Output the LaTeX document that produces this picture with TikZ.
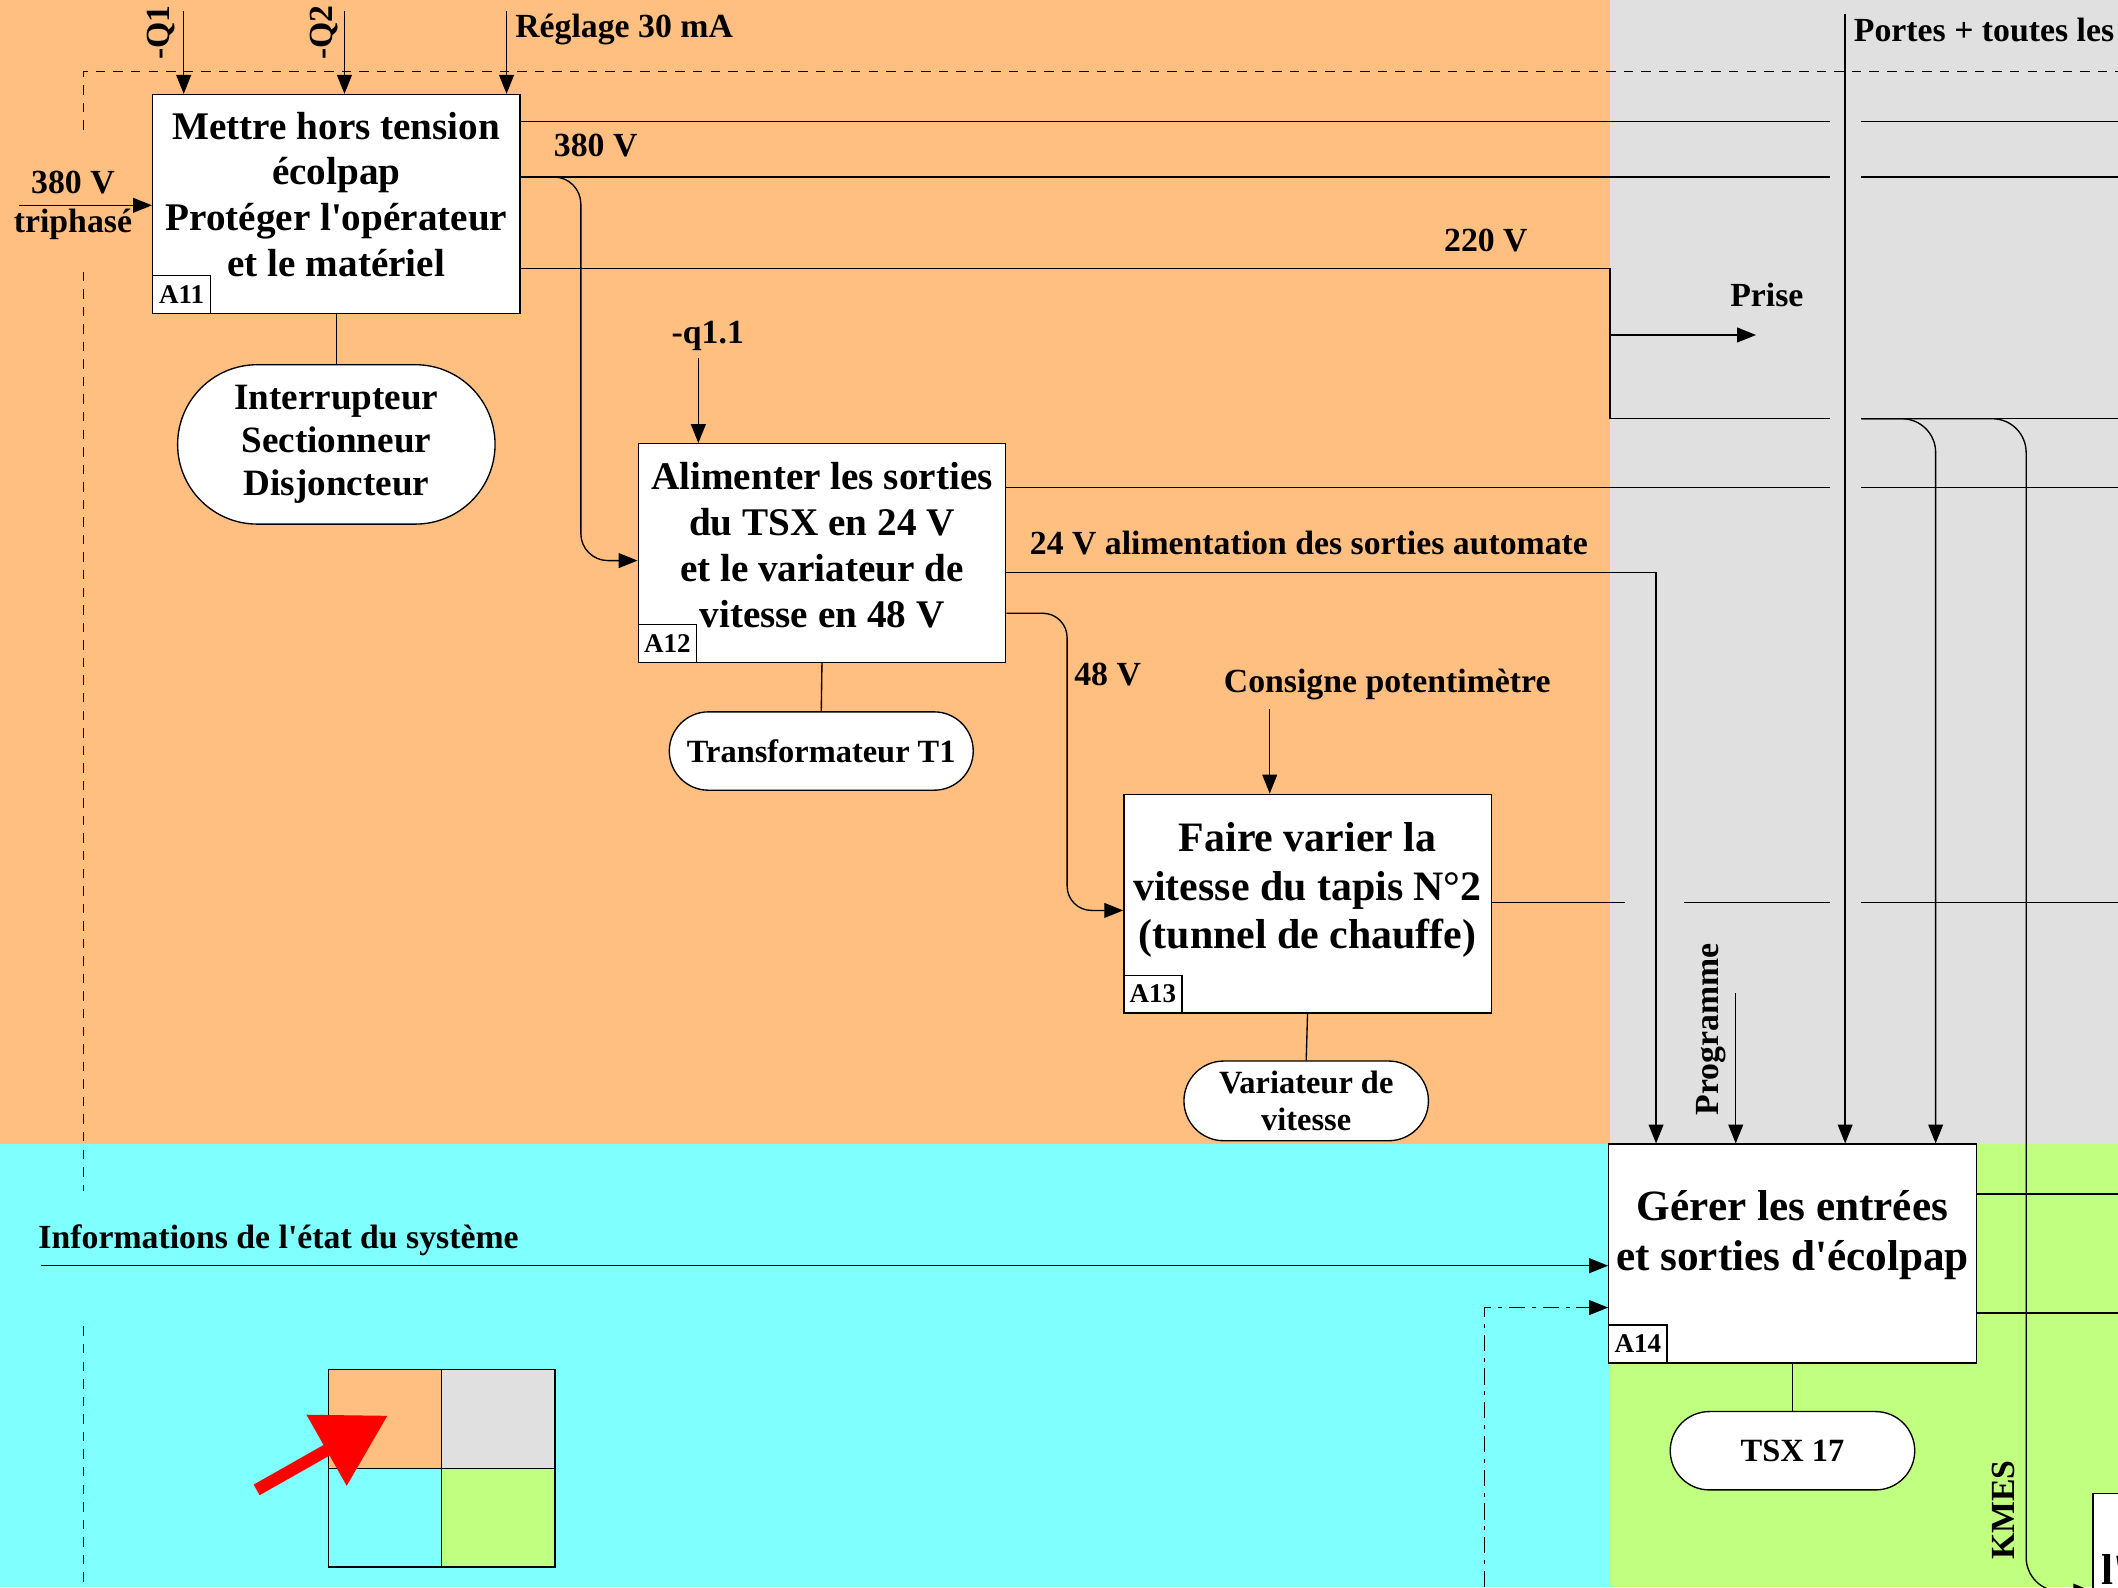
\documentclass[tikz,border=0pt]{standalone}
\usepackage{fontspec}
\setmainfont{Liberation Serif}[Ligatures=TeXOff]
\usetikzlibrary{arrows.meta,shapes.misc,positioning}

\definecolor{fondorange}{RGB}{255,191,128}
\definecolor{fondgris}{RGB}{224,224,224}
\definecolor{fondcyan}{RGB}{128,255,255}
\definecolor{fondvert}{RGB}{192,255,128}

\tikzset{
  fonction/.style={draw, fill=white, minimum width=272pt, minimum height=162pt, inner sep=0pt},
  titre/.style={align=center, font=\fontsize{29}{34}\selectfont\bfseries, inner sep=0pt},
  numero/.style={draw, fill=white, anchor=south west, minimum width=43pt, minimum height=28pt, inner sep=0pt, font=\fontsize{20}{22}\selectfont\bfseries},
  support/.style={draw, fill=white, rounded rectangle, inner sep=0pt, minimum height=58pt, align=center, font=\fontsize{24}{27}\selectfont\bfseries},
  etiq/.style={inner sep=0pt, font=\fontsize{25}{28}\selectfont\bfseries},
  tiret/.style={dash pattern=on 7pt off 6pt}
}

\begin{document}
\begin{tikzpicture}[x=1pt, y=-1pt, line width=1pt, >={Triangle[length=14pt,width=11pt]}]
\useasboundingbox (0,0) rectangle (1568,1175);
\clip (0,0) rectangle (1568,1175);

% Zones
\fill[fondorange] (0,0) rectangle (1192,847);
\fill[fondgris] (1192,0) rectangle (1568,847);
\fill[fondcyan] (0,847) rectangle (1192,1175);
\fill[fondvert] (1192,847) rectangle (1568,1175);

\coordinate (pg) at (1355,0);
\coordinate (pd) at (1378,0);
\coordinate (droite) at (1568,0);

% Cadre en tirets
\draw[tiret] (62,96) -- (62,53) -- (droite |- 0,53);
\draw[tiret] (62,201) -- (62,882);
\draw[tiret] (62,982) -- (62,1175);

% Fonctions
\node[fonction] (a11) at (249,151) {};
\node[titre] (t11) at ([yshift=7pt]a11.center) {Mettre hors tension\\écolpap\\Protéger l'opérateur\\et le matériel};
\node[numero] (n11) at (a11.south west) {A11};

\node[fonction] (a12) at (608.5,409.5) {};
\node[titre] (t12) at ([yshift=6pt]a12.center) {Alimenter les sorties\\du TSX en 24 V\\et le variateur de\\vitesse en 48 V};
\node[numero] (n12) at (a12.south west) {A12};

\node[fonction] (a13) at (968,669) {};
\node[titre, font=\fontsize{31}{36}\selectfont\bfseries] (t13) at ([yshift=10pt]a13.center) {Faire varier la\\vitesse du tapis N°2\\(tunnel de chauffe)};
\node[numero] (n13) at (a13.south west) {A13};

\node[fonction] (a14) at (1327,928) {};
\node[titre, font=\fontsize{32}{37}\selectfont\bfseries] (t14) at ([yshift=14pt]a14.center) {Gérer les entrées\\et sorties d'écolpap};
\node[numero] (n14) at (a14.south west) {A14};

\node[fonction, anchor=north west] (a15) at (1549,1105) {};
\node[anchor=north west, inner sep=0pt, font=\fontsize{32}{37}\selectfont\bfseries] (t15) at (1555,1150) {l'};

% Supports
\node[support, minimum width=235pt, minimum height=118pt, font=\fontsize{27.5}{32}\selectfont\bfseries] (m11) at (249,329) {Interrupteur\\Sectionneur\\Disjoncteur};
\node[support, minimum width=225pt] (m12) at (608,556) {Transformateur T1};
\node[support, minimum width=181pt, minimum height=59pt] (m13) at (967,815) {Variateur de\\vitesse};
\node[support, minimum width=181pt] (m14) at (1327,1074) {TSX 17};
\foreach \f/\m in {a11/m11, a12/m12, a13/m13, a14/m14}
  \draw (\f.south) -- (\m.north);

% Entrees A11
\coordinate (q1) at (136,8);
\coordinate (q2) at (255,8);
\coordinate (reg) at (375,8);
\foreach \c in {q1, q2, reg}
  \draw[->] (\c) -- (\c |- a11.north);
\node[etiq, rotate=90] (lq1) at (119,24) {-Q1};
\node[etiq, rotate=90] (lq2) at (240,24) {-Q2};
\node[etiq, anchor=west] (lreg) at (381,22) {Réglage 30 mA};
\coordinate (tri) at (14,152);
\draw[->] (tri) -- (tri -| a11.west);
\node[etiq] (l380) at (54,135) {380 V};
\node[etiq] (ltri) at (54,166) {triphasé};

% Sorties A11
\foreach \y in {90, 131}
  \draw (a11.east |- 0,\y) -- (pg |- 0,\y) (pd |- 0,\y) -- (droite |- 0,\y);
\node[etiq] (l380b) at (441,108) {380 V};
\draw[->, rounded corners=20pt] (a11.east |- 0,131) -- (430,131) -- (430,415) -- (a12.west |- 0,415);
\draw (a11.east |- 0,199) -- (1192,199) -- (1192,310) -- (pg |- 0,310);
\draw (pd |- 0,310) -- (droite |- 0,310);
\node[etiq] (l220) at (1100,178) {220 V};
\coordinate (prise) at (1300,248);
\draw[->] (1192,248) -- (prise);
\node[etiq] (lprise) at (1308,218) {Prise};
\draw[->, rounded corners=25pt] (pd |- 0,310) -- (1433,310) -- (a14.north -| 1433,0);
\draw[->, rounded corners=25pt] (pd |- 0,310) -- (1500,310) -- (1500,1178) -- (a15.west |- 0,1178);

% Sorties A12
\draw (a12.east |- 0,361) -- (pg |- 0,361) (pd |- 0,361) -- (droite |- 0,361);
\draw[->] (a12.east |- 0,424) -- (1226,424) -- (a14.north -| 1226,0);
\node[etiq] (l24) at (969,402) {24 V alimentation des sorties automate};
\draw[->, rounded corners=18pt] (a12.east |- 0,454) -- (790,454) -- (790,674) -- (a13.west |- 0,674);
\node[etiq] (l48) at (820,499) {48 V};
\coordinate (q11) at (517,265);
\draw[->] (q11) -- (q11 |- a12.north);
\node[etiq] (lq11) at (524,249) {-q1.1};

% A13
\coordinate (cons) at (940,525);
\draw[->] (cons) -- (cons |- a13.north);
\node[etiq] (lcons) at (1027,507) {Consigne potentimètre};
\draw (a13.east |- 0,668) -- (1203,668) (1247,668) -- (pg |- 0,668) (pd |- 0,668) -- (droite |- 0,668);

% A14
\coordinate (prog) at (1285,735);
\draw[->] (prog) -- (prog |- a14.north);
\node[etiq, rotate=90] (lprog) at (1267,762) {Programme};
\coordinate (portes) at (1366,10);
\draw[->] (portes) -- (portes |- a14.north);
\node[etiq, anchor=west] (lportes) at (1372,22) {Portes + toutes les};
\coordinate (info) at (30,937);
\draw[->] (info) -- (info -| a14.west);
\node[etiq, anchor=west] (linfo) at (28,918) {Informations de l'état du système};
\coordinate (dd) at (1099,1175);
\draw[->, dash pattern=on 12pt off 5pt on 3pt off 5pt] (dd) -- (1099,968) -- (a14.west |- 0,968);
\foreach \y in {884, 972}
  \draw (a14.east |- 0,\y) -- (droite |- 0,\y);
\node[etiq, rotate=90] (lkmes) at (1483,1118) {KMES};

% Legende
\draw[fill=fondorange] (243,1014) rectangle (327,1087);
\draw[fill=fondgris] (327,1014) rectangle (411,1087);
\draw[fill=fondcyan] (243,1087) rectangle (327,1160);
\draw[fill=fondvert] (327,1087) rectangle (411,1160);
\draw[red, line width=9pt, -{Triangle[length=52pt,width=58pt]}] (190,1103) -- (287,1048);
\end{tikzpicture}
\end{document}
